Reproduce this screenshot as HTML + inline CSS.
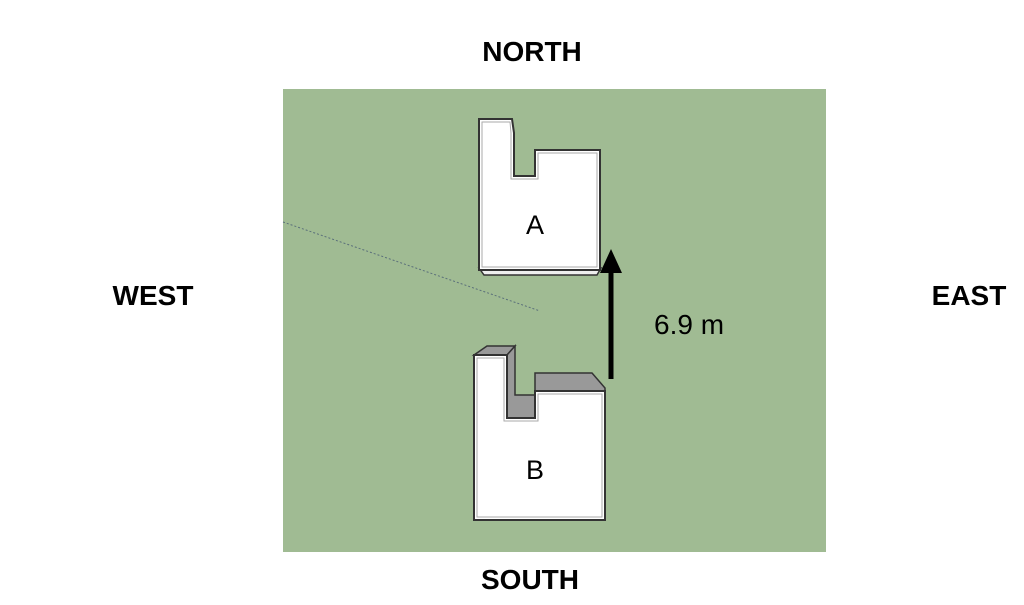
<!DOCTYPE html>
<html><head><style>
body{margin:0;width:1024px;height:600px;background:#fff;overflow:hidden;font-family:"Liberation Sans",sans-serif}
</style></head><body>
<svg width="1024" height="600" xmlns="http://www.w3.org/2000/svg">
<rect x="283" y="89" width="543" height="463" fill="#a0bb93"/>
<line x1="283" y1="222" x2="540" y2="311" stroke="#5a6f7a" stroke-width="1" stroke-dasharray="2,2"/>
<polygon points="479,268 484,275 597,275 601,268" fill="#eee" stroke="#333" stroke-width="1.5"/>
<polygon points="479,119 512,119 514,133 514,176 535,176 535,150 600,150 600,270 479,270" fill="#fff" stroke="#333" stroke-width="2"/>
<polygon points="482,122 510,122 511,133 511,179 538,179 538,153 597,153 597,267 482,267" fill="none" stroke="#aaa" stroke-width="1"/>
<text x="535" y="234" font-size="27" text-anchor="middle">A</text>
<polygon points="474,355 487,346 515,346 507,355" fill="#999" stroke="#333" stroke-width="1.5"/>
<polygon points="507,355 515,346 515,395 535,395 535,418 507,418" fill="#999" stroke="#333" stroke-width="1.5"/>
<polygon points="535,391 535,373 592,373 605,388 605,391" fill="#999" stroke="#333" stroke-width="1.5"/>
<polygon points="474,355 507,355 507,418 535,418 535,391 605,391 605,520 474,520" fill="#fff" stroke="#333" stroke-width="2"/>
<polygon points="477,358 504,358 504,421 538,421 538,394 602,394 602,517 477,517" fill="none" stroke="#aaa" stroke-width="1"/>
<text x="535" y="479" font-size="27" text-anchor="middle">B</text>
<line x1="611" y1="379" x2="611" y2="270" stroke="#000" stroke-width="5"/>
<polygon points="600,273 611,249 622,273" fill="#000"/>
<text x="654" y="334" font-size="28">6.9 m</text>
<g font-weight="bold" font-size="28" text-anchor="middle">
<text x="532" y="61">NORTH</text>
<text x="530" y="589">SOUTH</text>
<text x="153" y="305">WEST</text>
<text x="969" y="305">EAST</text>
</g>
</svg>
</body></html>
